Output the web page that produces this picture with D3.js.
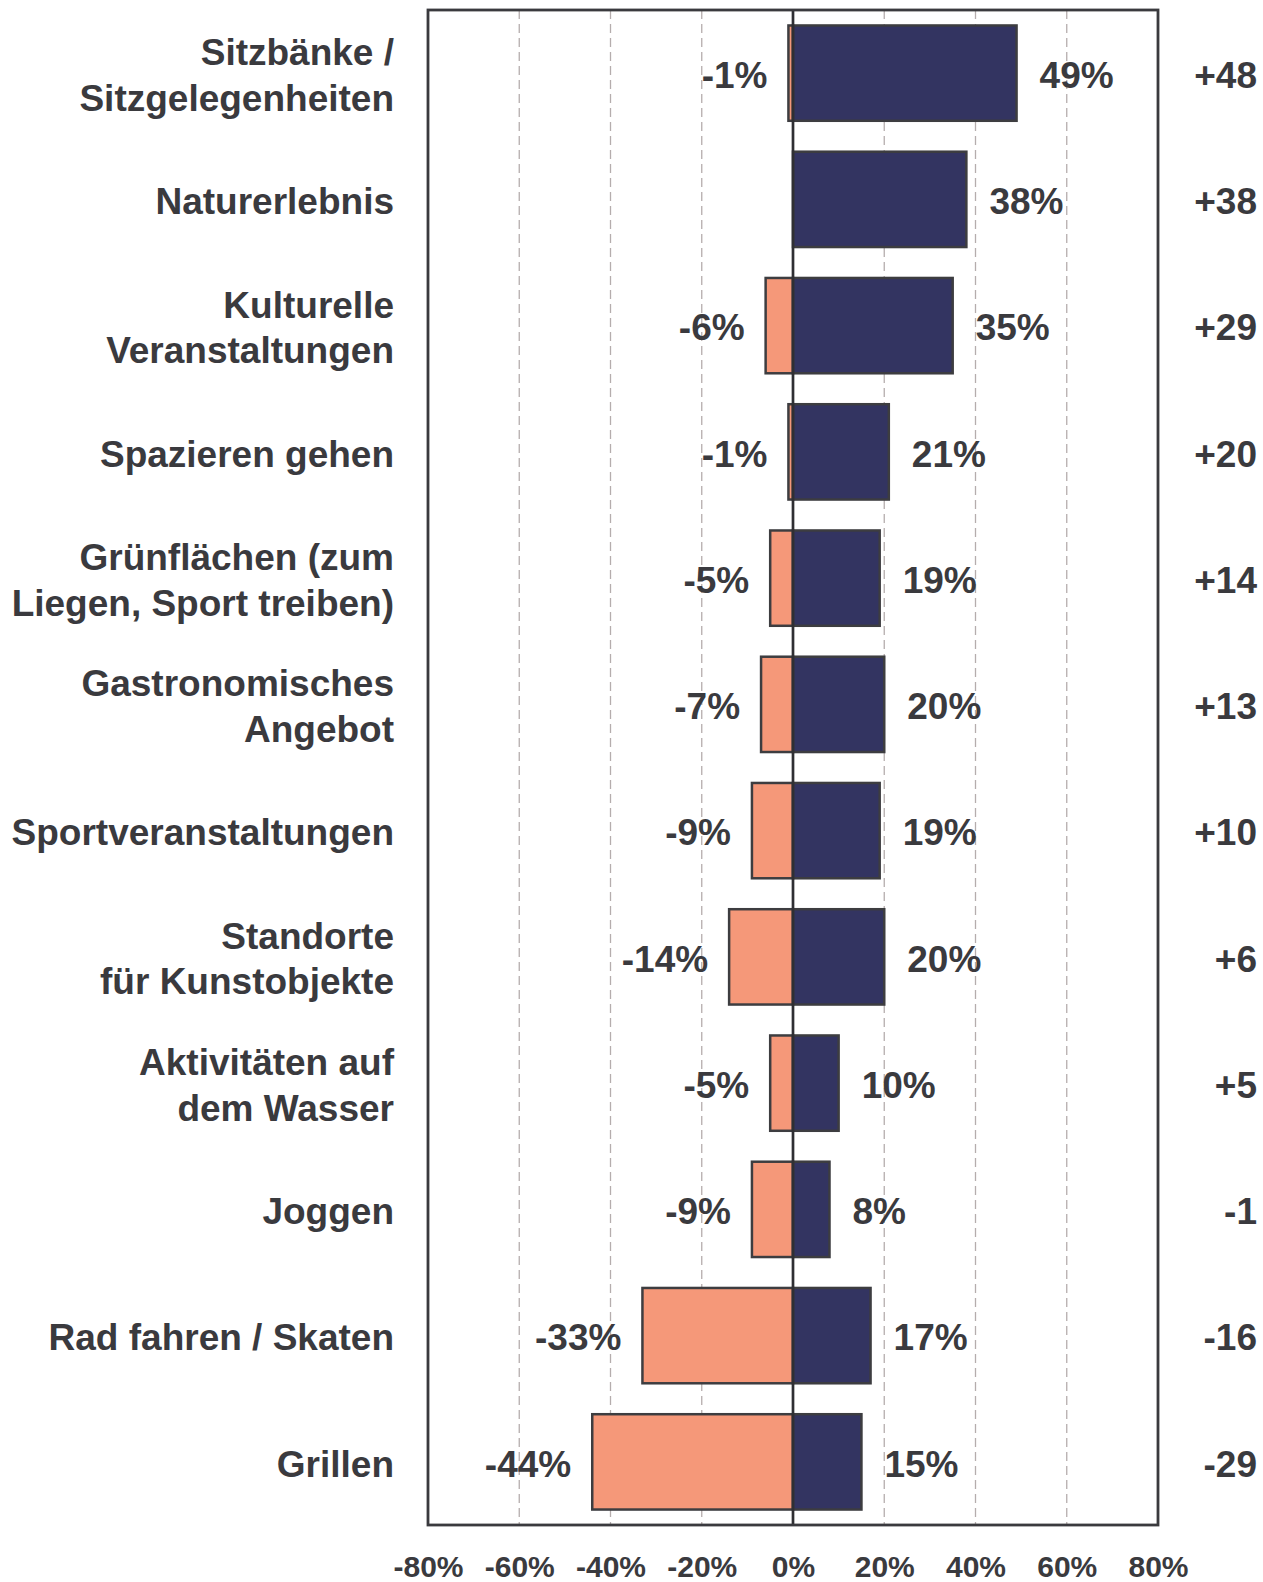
<!DOCTYPE html>
<html>
<head>
<meta charset="utf-8">
<script src="https://cdn.jsdelivr.net/npm/d3@7"></script>
<style>
  html, body { margin: 0; padding: 0; background: #fff; }
  svg text { font-family: "Liberation Sans", Arial, sans-serif; font-weight: bold; fill: #3a3a3e; }
</style>
</head>
<body>
<div id="chart"></div>
<script>
const categories = [
  ["Sitzbänke /", "Sitzgelegenheiten"],
  ["Naturerlebnis"],
  ["Kulturelle", "Veranstaltungen"],
  ["Spazieren gehen"],
  ["Grünflächen (zum", "Liegen, Sport treiben)"],
  ["Gastronomisches", "Angebot"],
  ["Sportveranstaltungen"],
  ["Standorte", "für Kunstobjekte"],
  ["Aktivitäten auf", "dem Wasser"],
  ["Joggen"],
  ["Rad fahren / Skaten"],
  ["Grillen"]
];
const negValues = [-1, 0, -6, -1, -5, -7, -9, -14, -5, -9, -33, -44];
const posValues = [49, 38, 35, 21, 19, 20, 19, 20, 10, 8, 17, 15];
const diffLabels = ["+48", "+38", "+29", "+20", "+14", "+13", "+10", "+6", "+5", "-1", "-16", "-29"];
const xTicks = [-80, -60, -40, -20, 0, 20, 40, 60, 80];

const width = 1263, height = 1582;
const margin = {top: 10, left: 428, right: 105, bottom: 57};
const innerW = width - margin.left - margin.right;
const innerH = height - margin.top - margin.bottom;

const svg = d3.select('#chart').append('svg')
  .attr('width', width)
  .attr('height', height);

const x = d3.scaleLinear().domain([-80, 80]).range([margin.left, margin.left + innerW]);
const y = d3.scaleBand().domain(d3.range(categories.length))
  .range([margin.top, margin.top + innerH])
  .paddingInner(0.245).paddingOuter(0.1225);

const rowC = i => y(i) + y.bandwidth() / 2;

// keep the row index with each value so zero rows can be skipped
const negRows = negValues.map((v, i) => ({v, i})).filter(d => d.v !== 0);

// gridlines
svg.append('g')
  .selectAll('line')
  .data(xTicks.filter(t => t !== 0 && Math.abs(t) !== 80))
  .enter().append('line')
  .attr('x1', d => x(d)).attr('x2', d => x(d))
  .attr('y1', margin.top).attr('y2', margin.top + innerH)
  .attr('stroke', '#b5adad')
  .attr('stroke-width', 1.3)
  .attr('stroke-dasharray', '9,5');

// negative bars
svg.append('g')
  .selectAll('rect')
  .data(negRows)
  .enter().append('rect')
  .attr('x', d => x(d.v))
  .attr('y', d => y(d.i))
  .attr('width', d => x(0) - x(d.v))
  .attr('height', y.bandwidth())
  .attr('fill', '#f59879')
  .attr('stroke', '#3d3d40')
  .attr('stroke-width', 2.5);

// positive bars
svg.append('g')
  .selectAll('rect')
  .data(posValues)
  .enter().append('rect')
  .attr('x', x(0))
  .attr('y', (d, i) => y(i))
  .attr('width', d => x(d) - x(0))
  .attr('height', y.bandwidth())
  .attr('fill', '#333461')
  .attr('stroke', '#3d3d40')
  .attr('stroke-width', 2.5);

// zero line
svg.append('line')
  .attr('x1', x(0)).attr('x2', x(0))
  .attr('y1', margin.top).attr('y2', margin.top + innerH)
  .attr('stroke', '#2f2f33')
  .attr('stroke-width', 2.7);

// frame
svg.append('rect')
  .attr('x', margin.left).attr('y', margin.top)
  .attr('width', innerW).attr('height', innerH)
  .attr('fill', 'none')
  .attr('stroke', '#3a3a3e')
  .attr('stroke-width', 2.8);

// x axis labels
const xAxis = d3.axisBottom(x).tickValues(xTicks).tickSize(0).tickPadding(0)
  .tickFormat(d => d + '%');
svg.append('g')
  .attr('transform', `translate(0,${margin.top + innerH})`)
  .call(xAxis)
  .call(g => g.select('.domain').remove())
  .call(g => g.selectAll('text')
    .attr('y', 52)
    .attr('dy', 0)
    .attr('font-size', 30)
    .attr('font-family', '"Liberation Sans", Arial, sans-serif')
    .attr('font-weight', 'bold')
    .attr('fill', '#3a3a3e'));

// category labels
const catG = svg.append('g');
categories.forEach((lines, i) => {
  const t = catG.append('text')
    .attr('x', 394)
    .attr('text-anchor', 'end')
    .attr('font-size', 37);
  lines.forEach((ln, j) => {
    const off = (j - (lines.length - 1) / 2) * 45.4;
    t.append('tspan')
      .attr('x', 394)
      .attr('y', rowC(i) + off)
      .attr('dy', '0.4em')
      .text(ln);
  });
});

// negative value labels
svg.append('g')
  .selectAll('text')
  .data(negRows)
  .enter().append('text')
  .attr('x', d => x(d.v) - 21)
  .attr('y', d => rowC(d.i))
  .attr('dy', '0.4em')
  .attr('text-anchor', 'end')
  .attr('font-size', 37)
  .text(d => d.v + '%');

// positive value labels
svg.append('g')
  .selectAll('text')
  .data(posValues)
  .enter().append('text')
  .attr('x', d => x(d) + 23)
  .attr('y', (d, i) => rowC(i))
  .attr('dy', '0.4em')
  .attr('font-size', 37)
  .text(d => d + '%');

// difference labels
svg.append('g')
  .selectAll('text')
  .data(diffLabels)
  .enter().append('text')
  .attr('x', 1257)
  .attr('y', (d, i) => rowC(i))
  .attr('dy', '0.4em')
  .attr('text-anchor', 'end')
  .attr('font-size', 37)
  .text(d => d);
</script>
</body>
</html>
